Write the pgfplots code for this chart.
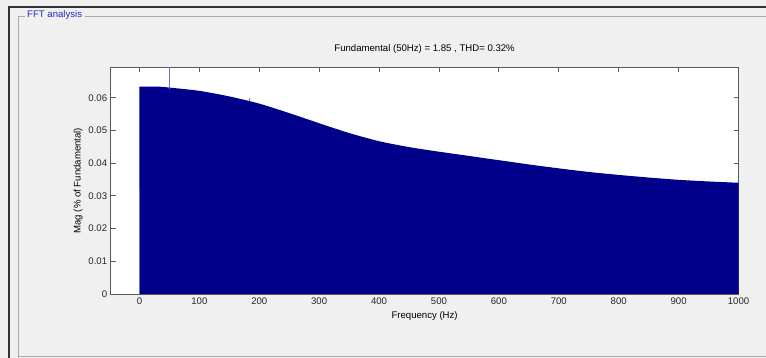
\documentclass[border=0pt]{standalone}
\usepackage{pgfplots}
\pgfplotsset{compat=1.18}
\usepackage{fontspec}
\setmainfont{Liberation Sans}
\definecolor{bgc}{RGB}{240,240,240}
\definecolor{navyc}{RGB}{0,0,139}
\definecolor{lblue}{RGB}{110,110,210}
\definecolor{boxc}{RGB}{170,170,170}
\definecolor{titc}{RGB}{40,40,190}
\definecolor{axc}{RGB}{90,90,90}
\begin{document}
\begin{tikzpicture}[x=1pt,y=1pt]
\useasboundingbox (0,0) rectangle (766,358);
\fill[bgc] (0,0) rectangle (766,358);
% outer frame
\draw[black!80, line width=1.2pt] (9,0) -- (9,351) -- (766,351);
% group box
\draw[boxc, line width=0.8pt] (18,0) -- (18,342) -- (25,342);
\draw[boxc, line width=0.8pt] (85,342) -- (766,342);
\draw[boxc, line width=0.8pt] (18,2) -- (766,2);
\node[anchor=west, inner sep=0pt, text=titc, font=\fontsize{9.6}{12}\selectfont] at (27,342.5) {FFT analysis};
\begin{axis}[
  at={(110.7pt,64pt)}, anchor=south west,
  scale only axis, width=627.8pt, height=226.7pt,
  xmin=-48, xmax=1000, ymin=0, ymax=0.0693,
  axis background/.style={fill=white},
  axis line style={axc, line width=0.8pt},
  tick style={axc, line width=0.8pt},
  tick align=inside, major tick length=5pt,
  xtick={0,100,...,1000},
  ytick={0,0.01,0.02,0.03,0.04,0.05,0.06},
  scaled y ticks=false,
  xticklabel style={/pgf/number format/1000 sep={}},
  yticklabel style={/pgf/number format/fixed, /pgf/number format/precision=2},
  /pgf/number format/assume math mode=true,
  ticklabel style={font=\fontsize{9.6}{12}\selectfont, text=black!85},
  title={Fundamental (50Hz) = 1.85 , THD= 0.32\%},
  title style={at={(axis description cs:0.5,1)}, anchor=center, yshift=12pt, font=\fontsize{9.6}{12}\selectfont},
  xlabel={Frequency (Hz)},
  xlabel style={at={(axis description cs:0.5,-0.097)}, anchor=center, font=\fontsize{9.6}{12}\selectfont},
  ylabel={Mag (\% of Fundamental)},
  ylabel style={at={(axis description cs:-0.052,0.5)}, anchor=center, font=\fontsize{9.6}{12}\selectfont},
  clip=true,
]
\addplot[fill=navyc, draw=none, smooth, tension=0.4] coordinates {
(0,0.0634) (30,0.0634) (50,0.0631) (100,0.0621) (150,0.0604) (200,0.0582)
(250,0.0553) (300,0.0522) (350,0.0492) (400,0.0467) (450,0.0449) (500,0.0435)
(550,0.0422) (600,0.0409) (650,0.0396) (700,0.0384) (750,0.0373) (800,0.0364)
(850,0.0356) (900,0.0349) (950,0.0344) (1000,0.0340)
} \closedcycle;
\addplot[lblue, line width=1pt] coordinates {(0,0) (0,0.0318)};
\addplot[lblue, line width=1pt] coordinates {(50,0.0626) (50,0.09)};
\addplot[lblue, line width=0.8pt] coordinates {(183,0.0590) (183,0.0598)};
\end{axis}
\end{tikzpicture}
\end{document}
